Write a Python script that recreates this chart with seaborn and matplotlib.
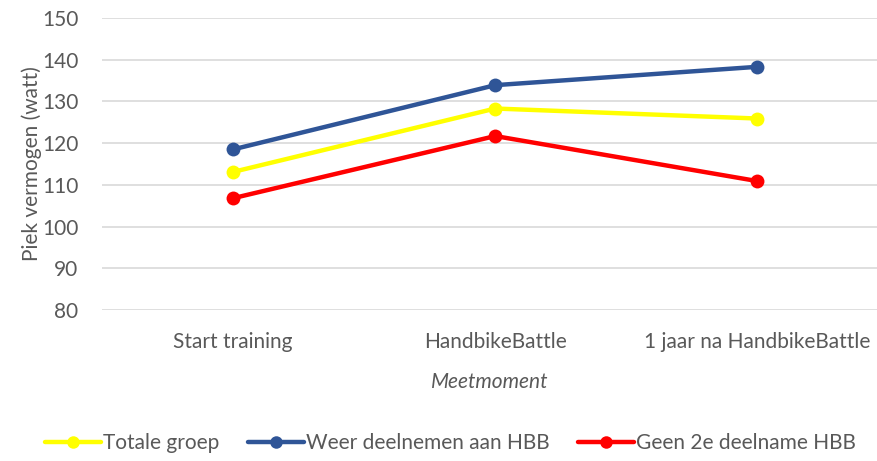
import pandas as pd
import seaborn as sns
import matplotlib.pyplot as plt

# values
meetmomenten = ["Start training", "HandbikeBattle", "1 jaar na HandbikeBattle"]
groepen = ["Totale groep", "Weer deelnemen aan HBB", "Geen 2e deelname HBB"]
totale_groep = [113.1, 128.3, 125.9]
weer_deelnemen = [118.5, 133.9, 138.3]
geen_deelname = [106.8, 121.7, 110.9]
kleuren = ["#FFFF00", "#2F5597", "#FF0000"]

rows = []
for groep, vals in zip(groepen, [totale_groep, weer_deelnemen, geen_deelname]):
    for i, v in enumerate(vals):
        rows.append({"pos": i, "Meetmoment": meetmomenten[i], "groep": groep, "watt": v})
df = pd.DataFrame(rows)

sns.set_style("white")
plt.rcParams["font.family"] = ["Lato", "DejaVu Sans"]
grijs = "#595959"

fig = plt.figure(figsize=(8.78, 4.61), dpi=100)
ax = fig.add_axes([102 / 878, 1 - 310 / 461, 1 - 102 / 878, (310 - 18) / 461])

sns.lineplot(data=df, x="pos", y="watt", hue="groep", hue_order=groepen,
             palette=kleuren, marker="o", markersize=10, markeredgewidth=0,
             linewidth=3.2, ax=ax, legend=False, zorder=3)

ax.set_xlim(-0.5, 2.46)
ax.set_ylim(80, 150)
ax.set_yticks(range(80, 151, 10))
ax.set_xticks(range(len(meetmomenten)))
ax.set_xticklabels(meetmomenten)
ax.yaxis.grid(True, color="#d9d9d9", linewidth=1.2)
ax.xaxis.grid(False)
for s in ax.spines.values():
    s.set_visible(False)
ax.tick_params(axis="both", length=0, labelsize=15, colors=grijs)
ax.tick_params(axis="y", pad=17)
ax.tick_params(axis="x", pad=16)
ax.set_xlabel("Meetmoment", fontsize=15, color=grijs, style="italic", labelpad=14)
ax.set_ylabel("Piek vermogen (watt)", fontsize=15, color=grijs, labelpad=0)

handles = [plt.Line2D([], [], color=c, linewidth=3.2, marker="o", markersize=9,
                      markeredgewidth=0) for c in kleuren]
fig.legend(handles, groepen, loc="center", bbox_to_anchor=(0.513, 1 - 443 / 461),
           ncol=3, frameon=False, fontsize=15, handlelength=2.7, handletextpad=0.1,
           columnspacing=1.35, labelcolor=grijs)

fig.savefig("out.png", dpi=100)
